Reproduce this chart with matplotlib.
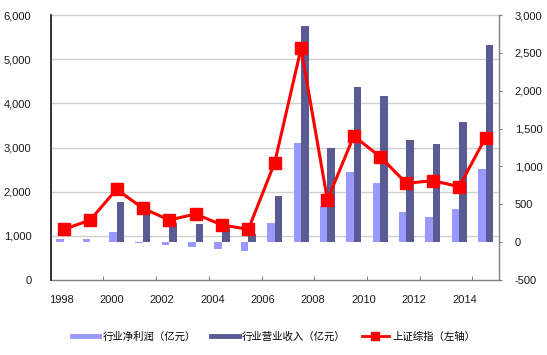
import matplotlib
matplotlib.use("Agg")
import matplotlib.pyplot as plt
from matplotlib.lines import Line2D
from matplotlib.transforms import blended_transform_factory
import numpy as np

plt.rcParams['font.family'] = ['Liberation Sans', 'Noto Sans CJK SC', 'DejaVu Sans']

years = list(range(1998, 2015))
net_profit = [40, 45, 132, -5, -40, -58, -92, -115, 250, 1308, 480, 929, 779, 396, 326, 436, 964]
revenue = [0, 0, 535, 403, 250, 236, 227, 112, 614, 2849, 1250, 2048, 1924, 1352, 1295, 1590, 2607]
sh_index = [1147, 1358, 2053, 1623, 1358, 1494, 1245, 1147, 2657, 5245, 1811, 3260, 2792, 2189, 2249, 2113, 3223]
xtick_labels = ['1998', '2000', '2002', '2004', '2006', '2008', '2010', '2012', '2014']
left_ticks = [0, 1000, 2000, 3000, 4000, 5000, 6000]
right_ticks = [-500, 0, 500, 1000, 1500, 2000, 2500, 3000]

c_light = '#9999FF'
c_dark = '#5B5B93'
c_red = '#FF0000'
txt = '#1a1a1a'

fig = plt.figure(figsize=(5.47, 3.55), dpi=100)
ax_bar = fig.add_axes([0.0927, 0.2113, 0.819, 0.7464])
ax_line = ax_bar.twinx()
ax_line.set_zorder(ax_bar.get_zorder() + 1)
ax_line.patch.set_visible(False)

x = np.arange(len(years))
w = 0.285
ax_bar.bar(x - w / 2, net_profit, width=w, color=c_light, zorder=3, linewidth=0)
ax_bar.bar(x + w / 2, revenue, width=w, color=c_dark, zorder=3, linewidth=0)
ax_bar.set_ylim(-500, 3000)
ax_bar.set_xlim(-0.5, len(years) - 0.5)

ax_line.plot(x, sh_index, color=c_red, lw=2.2, marker='s', markersize=8, zorder=5)
ax_line.set_ylim(0, 6000)

# gridlines at left-axis ticks, drawn behind bars
tr = blended_transform_factory(ax_bar.transAxes, ax_line.transData)
for v in left_ticks[1:]:
    ax_bar.plot([0, 1], [v, v], transform=tr, color='#D0D0D0', lw=1.0, zorder=1, clip_on=False)

fs = 8
# left axis (line axis) displayed on the left
ax_line.yaxis.tick_left()
ax_line.set_yticks(left_ticks)
ax_line.set_yticklabels([f'{v:,}' for v in left_ticks])
ax_line.tick_params(axis='y', length=0, pad=14, labelsize=fs, labelcolor=txt)

# right axis (bar axis) displayed on the right
ax_bar.yaxis.tick_right()
ax_bar.set_yticks(right_ticks)
ax_bar.set_yticklabels([f'{v:,}' for v in right_ticks])
ax_bar.tick_params(axis='y', length=2.5, width=0.8, color='#808080', pad=9, labelsize=fs, labelcolor=txt)

# x axis
label_pos = [-0.11 + 1.914 * k for k in range(len(xtick_labels))]
ax_bar.set_xticks(label_pos)
ax_bar.set_xticklabels(xtick_labels)
ax_bar.tick_params(axis='x', length=0, pad=11, labelsize=fs, labelcolor=txt)
ax_bar.set_xticks(np.arange(1.5, len(years) - 1, 2), minor=True)
ax_bar.tick_params(axis='x', which='minor', direction='in', length=3, width=0.8, color='#808080')
ax_line.tick_params(axis='x', which='both', bottom=False, labelbottom=False)

for a in (ax_bar, ax_line):
    a.spines['top'].set_visible(False)
ax_line.spines['right'].set_visible(False)
ax_line.spines['bottom'].set_visible(False)
ax_bar.spines['left'].set_visible(False)
ax_line.spines['left'].set_color('#111111')
ax_line.spines['left'].set_linewidth(1.2)
ax_bar.spines['right'].set_color('#808080')
ax_bar.spines['right'].set_linewidth(1.0)
ax_bar.spines['bottom'].set_color('#808080')
ax_bar.spines['bottom'].set_linewidth(1.0)

handles = [
    Line2D([], [], color=c_light, lw=3.5),
    Line2D([], [], color=c_dark, lw=3.5),
    Line2D([], [], color=c_red, lw=2, marker='s', markersize=6),
]
labels = ['行业净利润（亿元）', '行业营业收入（亿元）', '上证综指（左轴）']
fig.legend(handles, labels, loc='center', bbox_to_anchor=(0.5, 0.051), ncol=3,
           frameon=False, handlelength=2.6, handletextpad=0.35,
           columnspacing=1.5, prop={'family': ['Noto Sans CJK SC', 'DejaVu Sans'], 'size': 7.5})

fig.savefig('out.png', dpi=100)
